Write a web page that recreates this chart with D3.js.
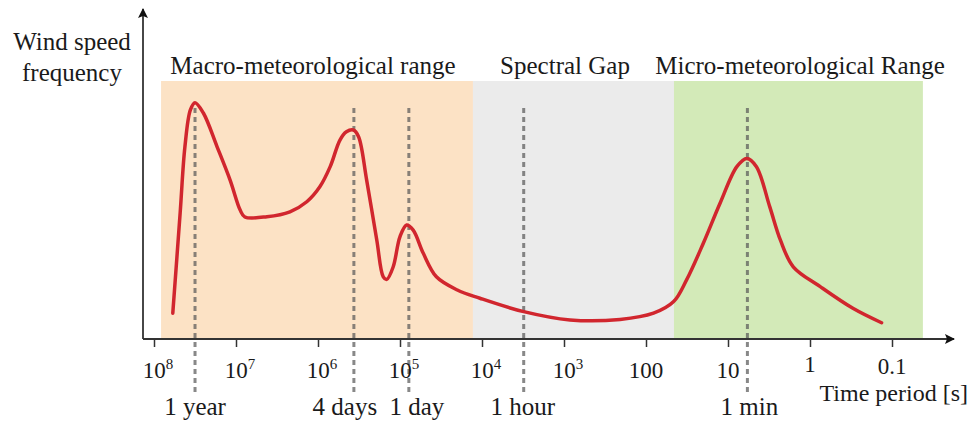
<!DOCTYPE html>
<html><head><meta charset="utf-8">
<script src="https://cdn.jsdelivr.net/npm/d3@7/dist/d3.min.js"></script>
<style>
html,body{margin:0;padding:0;background:#fff;}
svg{display:block;}
text{font-family:"Liberation Serif","DejaVu Serif",serif;fill:#1a1a1a;}
</style></head>
<body>
<script>
// Time period (s) of each curve point
const periods = [5.9e7,4.8e7,4.2e7,3.6e7,3.16e7,2.5e7,1.7e7,1.18e7,8.9e6,7.8e6,4.2e6,2.2e6,1.37e6,9.5e5,7.1e5,5.4e5,4.5e5,3.7e5,3.2e5,2.55e5,1.92e5,1.6e5,1.45e5,1.21e5,1.0e5,8.3e4,6.9e4,5.2e4,3.6e4,2.0e4,1.06e4,3.1e3,845,207,81,46,32,20,12.5,7.8,5.9,4.5,3.1,2.3,1.6,0.75,0.30,0.134];
// Relative wind speed frequency (arbitrary units, 0..100)
const frequency = [10,48.8,74.4,88.8,91.6,87.6,74.5,61.6,50,47.3,47.4,49.3,53.2,59,66.8,77.1,80.3,81,78.4,61.6,38.4,24.1,23.1,28,39.7,44.2,42.2,33.2,24.1,19,15.8,10.6,7.4,7.6,10,14.5,22.9,37.1,52.6,66.8,70,66.8,51.3,38.4,28,20.3,11.9,6.3];
// Tick values and labels
const tickValues = [1e8,1e7,1e6,1e5,1e4,1e3,100,10,1,0.1];
const tickBase = ["10","10","10","10","10","10","100","10","1","0.1"];
const tickSup  = ["8","7","6","5","4","3","","","",""];
// Ranges (period bounds in s)
const rangeNames = ["Macro-meteorological range","Spectral Gap","Micro-meteorological Range"];
const rangeStart = [8.2e7,1.29e4,45.6];
const rangeEnd   = [1.29e4,45.6,0.042];
const rangeColors = ["#fce2c5","#ebebeb","#d3eab8"];
// Marked periods (positions as drawn)
const markerNames = ["1 year","4 days","1 day","1 hour","1 min"];
const markerPeriods = [3.16e7,3.65e5,7.8e4,3.1e3,5.8];

const FONT='"Liberation Serif","DejaVu Serif",serif';
const W=973,H=425;
const svg=d3.select("body").append("svg").attr("width",W).attr("height",H);
const x=d3.scaleLog().domain([1e8,0.1]).range([154,892]);
const y=d3.scaleLinear().domain([0,100]).range([339,81]);
const x0=143, yAxis=339;

// shaded ranges
svg.selectAll("rect.rng").data(rangeNames).join("rect")
  .attr("x",(d,i)=>x(rangeStart[i])).attr("width",(d,i)=>x(rangeEnd[i])-x(rangeStart[i]))
  .attr("y",y(100)).attr("height",y(0)-y(100)).attr("fill",(d,i)=>rangeColors[i]);

// range labels
const labelCx=[313,565,800];
svg.selectAll("text.rng").data(rangeNames).join("text")
  .attr("font-family",FONT)
  .attr("x",(d,i)=>labelCx[i]).attr("y",74).attr("text-anchor","middle")
  .attr("font-size",25).text(d=>d);

// dashed markers
svg.selectAll("line.mk").data(markerPeriods).join("line")
  .attr("x1",d=>x(d)).attr("x2",d=>x(d)).attr("y1",108).attr("y2",395)
  .attr("stroke","#555").attr("stroke-opacity",0.7).attr("stroke-width",3).attr("stroke-dasharray","5,4");
const mkShift=[0,-9,8,-1,2];
svg.selectAll("text.mk").data(markerNames).join("text")
  .attr("font-family",FONT)
  .attr("x",(d,i)=>x(markerPeriods[i])+mkShift[i]).attr("y",415).attr("text-anchor","middle")
  .attr("font-size",25).text(d=>d);

// curve
const pts=periods.map((p,i)=>[p,frequency[i]]);
const line=d3.line().x(d=>x(d[0])).y(d=>y(d[1])).curve(d3.curveCatmullRom.alpha(0.5));
svg.append("path").datum(pts).attr("d",line).attr("fill","none")
  .attr("stroke","#d1262e").attr("stroke-width",3.5).attr("stroke-linejoin","round").attr("stroke-linecap","round");

// axes
const defs=svg.append("defs");
defs.append("marker").attr("id","arr").attr("viewBox","0 0 10 10").attr("refX",9).attr("refY",5)
  .attr("markerWidth",14).attr("markerHeight",10).attr("markerUnits","userSpaceOnUse").attr("orient","auto")
  .append("path").attr("d","M0,0 L10,5 L0,10 L2,5 Z").attr("fill","#111");
svg.append("line").attr("x1",x0).attr("x2",954).attr("y1",yAxis).attr("y2",yAxis)
  .attr("stroke","#333").attr("stroke-width",1.8).attr("marker-end","url(#arr)");
svg.append("line").attr("x1",x0).attr("x2",x0).attr("y1",yAxis).attr("y2",9)
  .attr("stroke","#333").attr("stroke-width",1.8).attr("marker-end","url(#arr)");

const ax=d3.axisBottom(x).tickValues(tickValues).tickSize(8).tickFormat("");
const g=svg.append("g").attr("transform",`translate(0,${yAxis})`).call(ax);
g.select(".domain").remove();
g.selectAll(".tick line").attr("stroke","#333").attr("stroke-width",1.5);
tickValues.forEach((v,i)=>{
  const t=svg.append("text").attr("font-family",FONT).attr("x",x(v)+(tickSup[i]?4:0)).attr("y",i===8?372:(i===9?374:378))
    .attr("text-anchor","middle").attr("font-size",23);
  t.append("tspan").text(tickBase[i]);
  if(tickSup[i]) t.append("tspan").attr("font-size",15).attr("dy",-9).text(tickSup[i]);
});

// axis titles
svg.append("text").attr("font-family",FONT).attr("x",968).attr("y",401).attr("text-anchor","end").attr("font-size",24).text("Time period [s]");
svg.append("text").attr("font-family",FONT).attr("x",72).attr("y",50).attr("text-anchor","middle").attr("font-size",25).text("Wind speed");
svg.append("text").attr("font-family",FONT).attr("x",72).attr("y",81).attr("text-anchor","middle").attr("font-size",25).text("frequency");
</script>
</body></html>
